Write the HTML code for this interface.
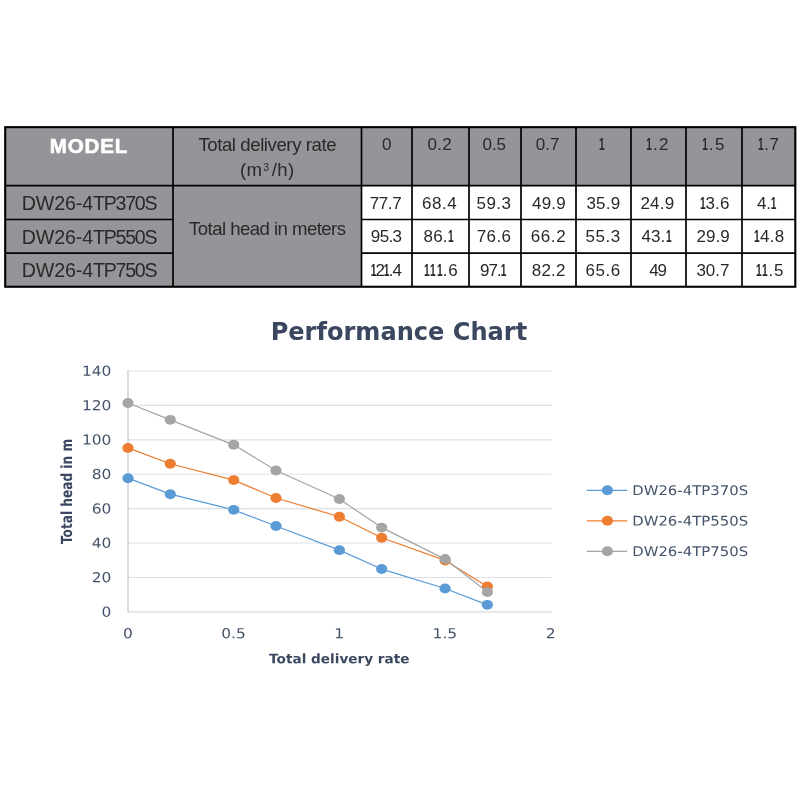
<!DOCTYPE html>
<html lang="en">
<head>
<meta charset="utf-8">
<title>Performance Chart</title>
<style>
html,body{margin:0;padding:0;background:#fff;}
body{width:800px;height:800px;position:relative;overflow:hidden;font-family:"Liberation Sans",sans-serif;color:#2b2829;}
table{position:absolute;border-collapse:collapse;border-spacing:0;table-layout:fixed;}
th,td{padding:0;margin:0;border:0;text-align:center;vertical-align:middle;white-space:nowrap;font-weight:normal;overflow:visible;}
td span,th span{position:relative;}
.g{background:#939598;}
.w{background:#fff;}
.n{font-size:17px;}
.t{font-size:18.6px;letter-spacing:-0.42px;}
.m{font-size:19.6px;letter-spacing:-0.58px;}
.h{vertical-align:top;}
.n i{font-style:normal;font-weight:bold;display:inline-block;transform:scaleX(0.6);margin:0 -2px 0 -1.6px;}
th.model{vertical-align:top;font-weight:bold;color:#fff;font-size:20.6px;letter-spacing:0.8px;-webkit-text-stroke:0.6px #fff;}
sup{font-size:10.5px;line-height:0;vertical-align:5px;margin:0 2.5px 0 0.8px;}
svg{position:absolute;left:0;top:0;pointer-events:none;}
svg text{font-family:"DejaVu Sans","Liberation Sans",sans-serif;}
</style>
</head>
<body>
<table style="left:5px;top:127px;width:790px">
<colgroup><col style="width:168px"><col style="width:188.5px"><col style="width:50.5px"><col style="width:57px"><col style="width:52px"><col style="width:55px"><col style="width:55px"><col style="width:55px"><col style="width:56px"><col style="width:53px"></colgroup>
<thead>
<tr style="height:58.7px">
<th class="g model" style="padding-top:6.5px">MODEL</th>
<th class="g t h" style="padding-top:5.25px;line-height:25.2px">Total delivery rate<br><span style="letter-spacing:0.3px">(m<sup>3</sup>/h)</span></th>
<th class="g n h" style="padding-top:7px"><span style="letter-spacing:0.4px;left:0.1px;top:0.6px;">0</span></th>
<th class="g n h" style="padding-top:7px"><span style="letter-spacing:0.26px;left:-0.77px;top:0.6px;">0.2</span></th>
<th class="g n h" style="padding-top:7px"><span style="letter-spacing:-0.04px;left:-0.78px;top:0.6px;">0.5</span></th>
<th class="g n h" style="padding-top:7px"><span style="letter-spacing:-0.02px;left:-0.89px;top:0.6px;">0.7</span></th>
<th class="g n h" style="padding-top:7px"><span style="letter-spacing:0.4px;left:-1.94px;top:0.6px;"><i>1</i></span></th>
<th class="g n h" style="padding-top:7px"><span style="letter-spacing:1.43px;left:-0.68px;top:0.6px;"><i>1</i>.2</span></th>
<th class="g n h" style="padding-top:7px"><span style="letter-spacing:1.48px;left:-0.4px;top:0.6px;"><i>1</i>.5</span></th>
<th class="g n h" style="padding-top:7px"><span style="letter-spacing:0.56px;left:0.26px;top:0.6px;"><i>1</i>.7</span></th>
</tr>
</thead>
<tbody>
<tr style="height:33.8px">
<td class="g m"><span style="top:0.8px"><span style="letter-spacing:-0.08px">DW26-4</span><span style="letter-spacing:-1.27px">TP370S</span></span></td>
<td class="g t" rowspan="3"><span style="top:-7px;letter-spacing:-0.55px">Total head in meters</span></td>
<td class="w n"><span style="letter-spacing:-0.44px;left:-1.25px;top:1.6px;">77.7</span></td>
<td class="w n"><span style="letter-spacing:0.47px;left:-0.93px;top:1.6px;">68.4</span></td>
<td class="w n"><span style="letter-spacing:0.47px;left:-1px;top:1.6px;">59.3</span></td>
<td class="w n"><span style="letter-spacing:0.18px;left:0.44px;top:1.6px;">49.9</span></td>
<td class="w n"><span style="letter-spacing:0.18px;left:-0.12px;top:1.6px;">35.9</span></td>
<td class="w n"><span style="letter-spacing:0.26px;left:-1.06px;top:1.6px;">24.9</span></td>
<td class="w n"><span style="letter-spacing:0.22px;left:0.51px;top:1.6px;"><i>1</i>3.6</span></td>
<td class="w n"><span style="letter-spacing:-0.21px;left:-1.89px;top:1.6px;">4.<i>1</i></span></td>
</tr>
<tr style="height:33.55px">
<td class="g m"><span style="top:0.8px"><span style="letter-spacing:-0.08px">DW26-4</span><span style="letter-spacing:-1.27px">TP550S</span></span></td>
<td class="w n"><span style="letter-spacing:-0.63px;left:-0.63px;top:0.6px;">95.3</span></td>
<td class="w n"><span style="letter-spacing:0.2px;left:-1.82px;top:0.6px;">86.<i>1</i></span></td>
<td class="w n"><span style="letter-spacing:0.4px;left:-0.9px;top:0.6px;">76.6</span></td>
<td class="w n"><span style="letter-spacing:0.6px;left:-0.03px;top:0.6px;">66.2</span></td>
<td class="w n"><span style="letter-spacing:0.53px;left:-0.44px;top:0.6px;">55.3</span></td>
<td class="w n"><span style="letter-spacing:0.08px;left:-2.17px;top:0.6px;">43.<i>1</i></span></td>
<td class="w n"><span style="letter-spacing:0.03px;left:-0.94px;top:0.6px;">29.9</span></td>
<td class="w n"><span style="letter-spacing:0.33px;left:0.66px;top:0.6px;"><i>1</i>4.8</span></td>
</tr>
<tr style="height:33.65px">
<td class="g m"><span style="top:0.8px"><span style="letter-spacing:-0.08px">DW26-4</span><span style="letter-spacing:-1.27px">TP750S</span></span></td>
<td class="w n"><span style="letter-spacing:-1.05px;left:-0.95px;top:1.6px;"><i>1</i>2<i>1</i>.4</span></td>
<td class="w n"><span style="letter-spacing:0.63px;left:0.34px;top:1.6px;"><i>1</i><i>1</i><i>1</i>.6</span></td>
<td class="w n"><span style="letter-spacing:-0.86px;left:-2.06px;top:1.6px;">97.<i>1</i></span></td>
<td class="w n"><span style="letter-spacing:0.26px;left:0.27px;top:1.6px;">82.2</span></td>
<td class="w n"><span style="letter-spacing:0.55px;left:-0.38px;top:1.6px;">65.6</span></td>
<td class="w n"><span style="letter-spacing:-1.05px;left:-0.95px;top:1.6px;">49</span></td>
<td class="w n"><span style="letter-spacing:0.03px;left:-1.03px;top:1.6px;">30.7</span></td>
<td class="w n"><span style="letter-spacing:0.77px;left:1.33px;top:1.6px;"><i>1</i><i>1</i>.5</span></td>
</tr>
</tbody>
</table>
<svg width="800" height="800" viewBox="0 0 800 800">
<g stroke="#000" stroke-width="1.7" fill="none">
<rect x="5.2" y="127.15" width="790.1" height="159.6" stroke-width="2.1"/>
<line x1="5" x2="795" y1="185.7" y2="185.7"/>
<line x1="5" x2="173" y1="219.5" y2="219.5"/>
<line x1="361.5" x2="795" y1="219.5" y2="219.5"/>
<line x1="5" x2="173" y1="253.05" y2="253.05"/>
<line x1="361.5" x2="795" y1="253.05" y2="253.05"/>
<line x1="173" x2="173" y1="127" y2="286.7"/>
<line x1="361.5" x2="361.5" y1="127" y2="286.7"/>
<line x1="412" x2="412" y1="127" y2="286.7"/>
<line x1="469" x2="469" y1="127" y2="286.7"/>
<line x1="521" x2="521" y1="127" y2="286.7"/>
<line x1="576" x2="576" y1="127" y2="286.7"/>
<line x1="631" x2="631" y1="127" y2="286.7"/>
<line x1="686" x2="686" y1="127" y2="286.7"/>
<line x1="742" x2="742" y1="127" y2="286.7"/>
</g>
<text x="398.9" y="340" text-anchor="middle" font-size="25.5" font-weight="bold" fill="#3A475F" textLength="256.5" lengthAdjust="spacingAndGlyphs">Performance Chart</text>
<g stroke="#DEE0E7" stroke-width="1.1">
<line x1="128.0" x2="551.7" y1="577.49" y2="577.49"/>
<line x1="128.0" x2="551.7" y1="543.07" y2="543.07"/>
<line x1="128.0" x2="551.7" y1="508.66" y2="508.66"/>
<line x1="128.0" x2="551.7" y1="474.24" y2="474.24"/>
<line x1="128.0" x2="551.7" y1="439.83" y2="439.83"/>
<line x1="128.0" x2="551.7" y1="405.41" y2="405.41"/>
<line x1="128.0" x2="551.7" y1="371.00" y2="371.00"/>
</g>
<g stroke="#CDD0D9" stroke-width="1.5">
<line x1="128.0" x2="551.7" y1="611.9" y2="611.9" stroke="#D6D9E1" stroke-width="1.2"/>
<line x1="128.0" x2="128.0" y1="370.5" y2="612.5"/>
</g>
<g fill="#44546A">
<text transform="translate(111.40,616.70) scale(1.12,1) rotate(0.03)" text-anchor="end" font-size="13.8">0</text>
<text transform="translate(111.40,582.29) scale(1.12,1) rotate(0.03)" text-anchor="end" font-size="13.8">20</text>
<text transform="translate(111.40,547.87) scale(1.12,1) rotate(0.03)" text-anchor="end" font-size="13.8">40</text>
<text transform="translate(111.40,513.46) scale(1.12,1) rotate(0.03)" text-anchor="end" font-size="13.8">60</text>
<text transform="translate(111.40,479.04) scale(1.12,1) rotate(0.03)" text-anchor="end" font-size="13.8">80</text>
<text transform="translate(111.40,444.63) scale(1.12,1) rotate(0.03)" text-anchor="end" font-size="13.8">100</text>
<text transform="translate(111.40,410.21) scale(1.12,1) rotate(0.03)" text-anchor="end" font-size="13.8">120</text>
<text transform="translate(111.40,375.80) scale(1.12,1) rotate(0.03)" text-anchor="end" font-size="13.8">140</text>
<text transform="translate(127.80,638.20) scale(1.12,1) rotate(0.03)" text-anchor="middle" font-size="13.8">0</text>
<text transform="translate(233.50,638.20) scale(1.12,1) rotate(0.03)" text-anchor="middle" font-size="13.8">0.5</text>
<text transform="translate(339.20,638.20) scale(1.12,1) rotate(0.03)" text-anchor="middle" font-size="13.8">1</text>
<text transform="translate(444.90,638.20) scale(1.12,1) rotate(0.03)" text-anchor="middle" font-size="13.8">1.5</text>
<text transform="translate(550.60,638.20) scale(1.12,1) rotate(0.03)" text-anchor="middle" font-size="13.8">2</text>
<text transform="translate(339.30,663.30) scale(1.04,1) rotate(0.03)" text-anchor="middle" font-size="13.1" font-weight="bold" fill="#3A475F">Total delivery rate</text>
<text transform="translate(71.9,491.5) rotate(-90.03) scale(0.935,1.18)" text-anchor="middle" font-size="13" font-weight="bold" fill="#3A475F">Total head in m</text>
<text transform="translate(632.20,495.00) scale(1.12,1) rotate(0.03)" text-anchor="start" font-size="13.3">DW26-4TP370S</text>
<text transform="translate(632.20,525.50) scale(1.12,1) rotate(0.03)" text-anchor="start" font-size="13.3">DW26-4TP550S</text>
<text transform="translate(632.20,556.00) scale(1.12,1) rotate(0.03)" text-anchor="start" font-size="13.3">DW26-4TP750S</text>
</g>
<polyline points="128.00,478.20 170.28,494.20 233.70,509.86 275.98,526.04 339.40,550.13 381.68,569.05 445.10,588.50 487.38,604.85" fill="none" stroke="#5B9BD5" stroke-width="1.25" stroke-linejoin="round"/>
<ellipse cx="128.00" cy="478.20" rx="5.6" ry="4.95" fill="#5B9BD5"/>
<ellipse cx="170.28" cy="494.20" rx="5.6" ry="4.95" fill="#5B9BD5"/>
<ellipse cx="233.70" cy="509.86" rx="5.6" ry="4.95" fill="#5B9BD5"/>
<ellipse cx="275.98" cy="526.04" rx="5.6" ry="4.95" fill="#5B9BD5"/>
<ellipse cx="339.40" cy="550.13" rx="5.6" ry="4.95" fill="#5B9BD5"/>
<ellipse cx="381.68" cy="569.05" rx="5.6" ry="4.95" fill="#5B9BD5"/>
<ellipse cx="445.10" cy="588.50" rx="5.6" ry="4.95" fill="#5B9BD5"/>
<ellipse cx="487.38" cy="604.85" rx="5.6" ry="4.95" fill="#5B9BD5"/>
<polyline points="128.00,447.92 170.28,463.75 233.70,480.09 275.98,497.99 339.40,516.74 381.68,537.74 445.10,560.45 487.38,586.43" fill="none" stroke="#ED7D31" stroke-width="1.25" stroke-linejoin="round"/>
<ellipse cx="128.00" cy="447.92" rx="5.6" ry="4.95" fill="#ED7D31"/>
<ellipse cx="170.28" cy="463.75" rx="5.6" ry="4.95" fill="#ED7D31"/>
<ellipse cx="233.70" cy="480.09" rx="5.6" ry="4.95" fill="#ED7D31"/>
<ellipse cx="275.98" cy="497.99" rx="5.6" ry="4.95" fill="#ED7D31"/>
<ellipse cx="339.40" cy="516.74" rx="5.6" ry="4.95" fill="#ED7D31"/>
<ellipse cx="381.68" cy="537.74" rx="5.6" ry="4.95" fill="#ED7D31"/>
<ellipse cx="445.10" cy="560.45" rx="5.6" ry="4.95" fill="#ED7D31"/>
<ellipse cx="487.38" cy="586.43" rx="5.6" ry="4.95" fill="#ED7D31"/>
<polyline points="128.00,403.01 170.28,419.87 233.70,444.82 275.98,470.46 339.40,499.02 381.68,527.59 445.10,559.07 487.38,592.11" fill="none" stroke="#A5A5A5" stroke-width="1.25" stroke-linejoin="round"/>
<ellipse cx="128.00" cy="403.01" rx="5.6" ry="4.95" fill="#A5A5A5"/>
<ellipse cx="170.28" cy="419.87" rx="5.6" ry="4.95" fill="#A5A5A5"/>
<ellipse cx="233.70" cy="444.82" rx="5.6" ry="4.95" fill="#A5A5A5"/>
<ellipse cx="275.98" cy="470.46" rx="5.6" ry="4.95" fill="#A5A5A5"/>
<ellipse cx="339.40" cy="499.02" rx="5.6" ry="4.95" fill="#A5A5A5"/>
<ellipse cx="381.68" cy="527.59" rx="5.6" ry="4.95" fill="#A5A5A5"/>
<ellipse cx="445.10" cy="559.07" rx="5.6" ry="4.95" fill="#A5A5A5"/>
<ellipse cx="487.38" cy="592.11" rx="5.6" ry="4.95" fill="#A5A5A5"/>
<line x1="586.8" x2="627.2" y1="490.3" y2="490.3" stroke="#5B9BD5" stroke-width="1.25"/>
<ellipse cx="607.4" cy="490.3" rx="5.6" ry="4.95" fill="#5B9BD5"/>
<line x1="586.8" x2="627.2" y1="520.8" y2="520.8" stroke="#ED7D31" stroke-width="1.25"/>
<ellipse cx="607.4" cy="520.8" rx="5.6" ry="4.95" fill="#ED7D31"/>
<line x1="586.8" x2="627.2" y1="551.3" y2="551.3" stroke="#A5A5A5" stroke-width="1.25"/>
<ellipse cx="607.4" cy="551.3" rx="5.6" ry="4.95" fill="#A5A5A5"/>
</svg>
</body>
</html>
